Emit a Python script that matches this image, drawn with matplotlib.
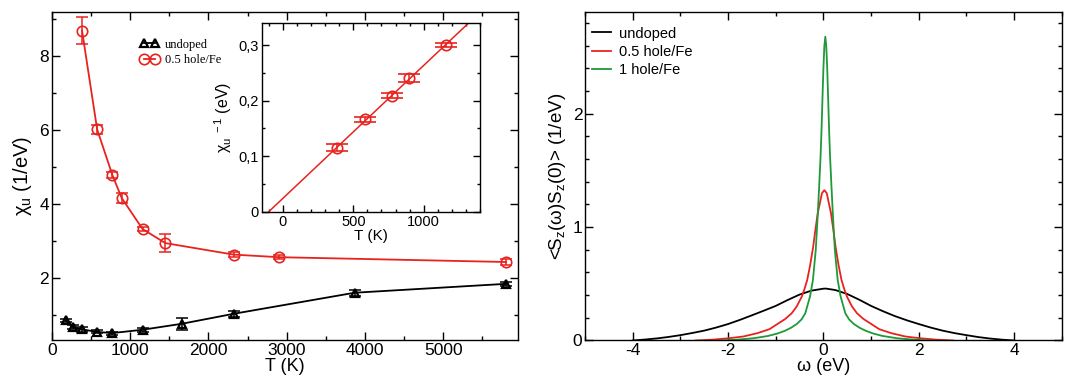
import matplotlib
matplotlib.use("Agg")
import matplotlib.pyplot as plt
from matplotlib.ticker import MultipleLocator, FuncFormatter

plt.rcParams["font.family"] = ["Liberation Sans", "DejaVu Sans"]
plt.rcParams["mathtext.fontset"] = "custom"
plt.rcParams["mathtext.rm"] = "Liberation Sans"
plt.rcParams["mathtext.it"] = "Liberation Sans:italic"
plt.rcParams["axes.unicode_minus"] = False

RED = "#e8231f"
GREEN = "#1e9a38"

# -------------------------
# Data
# -------------------------
# left panel: uniform susceptibility vs temperature
T_undoped = [181, 270, 387, 580, 774, 1160, 1658, 2321, 3868, 5802]
chi_undoped = [0.86, 0.68, 0.62, 0.55, 0.52, 0.61, 0.77, 1.04, 1.61, 1.85]
err_undoped = [0.05, 0.05, 0.07, 0.04, 0.04, 0.05, 0.16, 0.08, 0.08, 0.05]

T_doped = [387, 580, 774, 893, 1160, 1451, 2321, 2901, 5802]
chi_doped = [8.69, 6.02, 4.79, 4.17, 3.33, 2.95, 2.64, 2.57, 2.44]
err_doped = [0.37, 0.13, 0.08, 0.13, 0.06, 0.25, 0.07, 0.05, 0.07]

# inset: inverse susceptibility of the doped case + linear fit
T_inv = [387, 580, 774, 893, 1160]
inv_chi = [0.115, 0.166, 0.209, 0.240, 0.300]
err_inv = [0.006, 0.005, 0.004, 0.007, 0.004]
fit_T = [-100, 1400]
fit_inv = [0.0, 0.359]

# right panel: spin-spin correlation spectra
w_undoped = [-4.0, -3.75, -3.5, -3.25, -3.0, -2.75, -2.5, -2.25, -2.0, -1.75, -1.5,
             -1.25, -1.0, -0.75, -0.5, -0.25, 0.0, 0.05, 0.25, 0.5, 0.75, 1.0, 1.25,
             1.5, 1.75, 2.0, 2.25, 2.5, 2.75, 3.0, 3.25, 3.5, 3.75, 4.0]
s_undoped = [0.0, 0.008, 0.018, 0.031, 0.047, 0.066, 0.087, 0.114, 0.145, 0.182, 0.222,
             0.263, 0.305, 0.357, 0.405, 0.44, 0.457, 0.458, 0.445, 0.41, 0.36, 0.305, 0.258,
             0.215, 0.178, 0.145, 0.114, 0.087, 0.065, 0.047, 0.03, 0.017, 0.007, 0.0]

w_half = [-2.68, -2.33, -1.98, -1.68, -1.38, -1.13, -0.94, -0.80, -0.665, -0.56,
          -0.455, -0.40, -0.34, -0.28, -0.215, -0.17, -0.12, -0.08, -0.03, 0.02,
          0.07, 0.12, 0.16, 0.21, 0.255, 0.32, 0.38, 0.44, 0.495, 0.60, 0.705, 0.84,
          0.98, 1.17, 1.42, 1.72, 2.02, 2.37, 2.72]
s_half = [0.0, 0.007, 0.02, 0.035, 0.065, 0.10, 0.152, 0.19, 0.24, 0.30,
          0.386, 0.45, 0.533, 0.66, 0.826, 0.97, 1.12, 1.20, 1.30, 1.326,
          1.30, 1.20, 1.12, 0.97, 0.826, 0.66, 0.533, 0.45, 0.386, 0.30, 0.24, 0.19,
          0.152, 0.10, 0.065, 0.035, 0.02, 0.007, 0.0]

w_one = [-2.16, -1.81, -1.46, -1.16, -0.96, -0.81, -0.68, -0.56, -0.46, -0.38,
         -0.28, -0.22, -0.16, -0.12, -0.09, -0.06, -0.04, -0.02, 0.0, 0.02, 0.04,
         0.06, 0.08, 0.10, 0.12, 0.14, 0.17, 0.20, 0.24, 0.30, 0.36, 0.46, 0.54,
         0.64, 0.76, 0.89, 1.04, 1.24, 1.54, 1.89, 2.24]
s_one = [0.0, 0.007, 0.02, 0.04, 0.062, 0.085, 0.112, 0.145, 0.185, 0.24,
         0.39, 0.533, 0.80, 1.10, 1.35, 1.62, 1.85, 2.13, 2.40, 2.60, 2.68,
         2.60, 2.40, 2.13, 1.85, 1.62, 1.35, 1.10, 0.80, 0.533, 0.39, 0.24, 0.185,
         0.145, 0.112, 0.085, 0.062, 0.04, 0.02, 0.007, 0.0]


def style_ticks(ax, size=12.5, major=6, minor=3, pad=2.5):
    ax.tick_params(which="both", direction="in", top=True, right=True, width=1.0,
                   labelsize=size, pad=pad)
    ax.tick_params(which="major", length=major)
    ax.tick_params(which="minor", length=minor)
    for s in ax.spines.values():
        s.set_linewidth(1.0)


fig = plt.figure(figsize=(10.67, 3.8), dpi=100)

# -------------------------
# Left panel
# -------------------------
ax1 = fig.add_axes([0.0485, 0.105, 0.4367, 0.864])
ax1.errorbar(T_undoped, chi_undoped, yerr=err_undoped, fmt="none", ecolor="black",
             elinewidth=1.1, capsize=4.5, capthick=1.1)
ax1.plot(T_undoped, chi_undoped, "-^", color="black", lw=1.3, ms=6, mfc="none",
         mew=1.6, label="undoped")
ax1.errorbar(T_doped, chi_doped, yerr=err_doped, fmt="none", ecolor=RED,
             elinewidth=1.1, capsize=4.5, capthick=1.1)
ax1.plot(T_doped, chi_doped, "-o", color=RED, lw=1.3, ms=7.5, mfc="none",
         mew=1.2, label="0.5 hole/Fe")
ax1.set_xlim(0, 5950)
ax1.set_ylim(0.33, 9.2)
ax1.xaxis.set_major_locator(MultipleLocator(1000))
ax1.xaxis.set_minor_locator(MultipleLocator(500))
ax1.yaxis.set_major_locator(MultipleLocator(2))
ax1.yaxis.set_minor_locator(MultipleLocator(1))
style_ticks(ax1, pad=2)
ax1.set_xlabel("T (K)", fontsize=13, labelpad=0)
ax1.set_ylabel("χ$_{\\rm u}$ (1/eV)", fontsize=14.5, labelpad=4)
ax1.legend(loc="upper left", bbox_to_anchor=(0.19, 0.918), frameon=False,
           prop={"family": "Liberation Serif", "size": 9}, numpoints=2,
           handlelength=1.5, handletextpad=0.5, labelspacing=0.3,
           borderpad=0, borderaxespad=0)

# inset
ins = fig.add_axes([0.2453, 0.443, 0.2046, 0.497])
ins.plot(fit_T, fit_inv, "-", color=RED, lw=1.1)
ins.errorbar(T_inv, inv_chi, yerr=err_inv, fmt="o", color=RED, mfc="none", ms=7.5,
             mew=1.2, elinewidth=1.1, capsize=8, capthick=1.1)
ins.set_xlim(-150, 1400)
ins.set_ylim(0, 0.34)
ins.xaxis.set_major_locator(MultipleLocator(500))
ins.xaxis.set_minor_locator(MultipleLocator(100))
ins.yaxis.set_major_locator(MultipleLocator(0.1))
ins.yaxis.set_minor_locator(MultipleLocator(0.05))
ins.yaxis.set_major_formatter(FuncFormatter(
    lambda v, p: "0" if abs(v) < 1e-9 else f"{v:.1f}".replace(".", ",")))
style_ticks(ins, size=10.5, major=5, minor=2.5)
ins.set_xlabel("T (K)", fontsize=11, labelpad=0)
ins.set_ylabel("χ$_{\\rm u}$$^{\\ \\rm -1}$ (eV)", fontsize=11.5, labelpad=3)

# -------------------------
# Right panel
# -------------------------
ax2 = fig.add_axes([0.5483, 0.104, 0.4468, 0.865])
ax2.plot(w_undoped, s_undoped, color="black", lw=1.3, label="undoped")
ax2.plot(w_half, s_half, color=RED, lw=1.3, label="0.5 hole/Fe")
ax2.plot(w_one, s_one, color=GREEN, lw=1.3, label="1 hole/Fe")
ax2.set_xlim(-5, 5)
ax2.set_ylim(0, 2.9)
ax2.xaxis.set_major_locator(MultipleLocator(2))
ax2.xaxis.set_minor_locator(MultipleLocator(1))
ax2.yaxis.set_major_locator(MultipleLocator(1))
ax2.yaxis.set_minor_locator(MultipleLocator(0.2))
style_ticks(ax2, pad=2)
ax2.set_xlabel("ω (eV)", fontsize=13, labelpad=0)
ax2.set_ylabel("<S$_{\\rm z}$(ω)S$_{\\rm z}$(0)> (1/eV)", fontsize=13.5, labelpad=3)
ax2.legend(loc="upper left", bbox_to_anchor=(0.014, 0.955), frameon=False,
           fontsize=10.5, handlelength=1.3, handletextpad=0.6, labelspacing=0.3,
           borderpad=0, borderaxespad=0)

fig.savefig("out.png", dpi=100)
